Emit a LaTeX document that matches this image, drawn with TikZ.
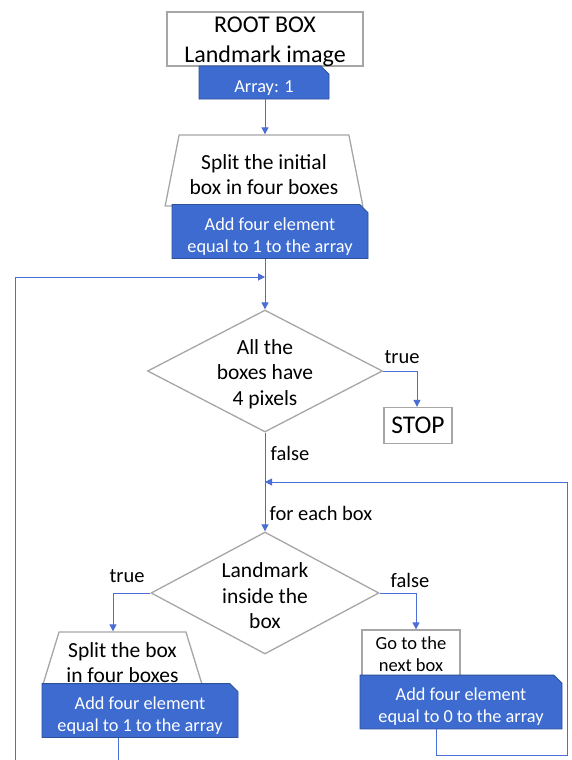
\documentclass[tikz,border=0pt]{standalone}
\usepackage{fontspec}
\setmainfont{Carlito}
\usetikzlibrary{shapes.geometric,shapes.misc,arrows.meta}
\definecolor{conn}{HTML}{4A6ED6}
\definecolor{bluefill}{HTML}{3D6BD0}
\definecolor{blueedge}{HTML}{2E5099}
\definecolor{grayedge}{HTML}{A6A6A6}
\newcommand\bpad{\rule{0pt}{22.5pt}}
\newcommand\tpad{\rule{0pt}{24pt}}
\tikzset{
  whitebox/.style={draw=grayedge,line width=1.3pt,fill=white,inner sep=0pt,align=center},
  bluebox/.style={chamfered rectangle,chamfered rectangle corners=north east,chamfered rectangle xsep=5pt,
    draw=blueedge,line width=0.8pt,fill=bluefill,text=white,inner sep=0pt,align=center,
    font=\fontsize{18.3}{22}\selectfont},
  trapbox/.style={whitebox,trapezium,trapezium stretches=true,font=\fontsize{21.5}{25}\selectfont},
  decision/.style={diamond,draw=grayedge,line width=1.3pt,inner sep=0pt},
  dtext/.style={label={[align=center,font=\fontsize{21.5}{25.5}\selectfont,yshift=-3pt]center:#1}},
  conn/.style={draw=conn,line width=1pt},
  arr/.style={conn,-{Triangle[width=7pt,length=7pt]}},
  lbl/.style={inner sep=0pt,font=\fontsize{20.5}{24}\selectfont}
}
\begin{document}
\begin{tikzpicture}[x=1pt,y=-1pt]
\useasboundingbox[fill=white] (0,0) rectangle (571,760);
% nodes
\node[whitebox,rectangle,minimum width=196,minimum height=54,label={[align=center,font=\fontsize{24}{30}\selectfont,yshift=-3pt]center:ROOT BOX\\Landmark image}] (root) at (265,39) {};
\node[bluebox,minimum width=130,minimum height=33] (arr1) at (264,82.5) {\bpad Array: 1};
\node[trapbox,trapezium left angle=76,trapezium right angle=76,minimum width=198,minimum height=71] (trap1) at (264,170.5) {\tpad Split the initial\\box in four boxes};
\node[bluebox,minimum width=196,minimum height=51] (blue1) at (270,231.5) {\bpad Add four element\\equal to 1 to the array};
\node[decision,minimum width=235,minimum height=122,dtext={All the\\boxes have\\4 pixels}] (d1) at (265,371) {};
\node[whitebox,rectangle,minimum width=68,minimum height=36,font=\fontsize{25.5}{28}\selectfont] (stop) at (418,425.5) {STOP};
\node[decision,minimum width=228,minimum height=122,dtext={Landmark\\inside the\\box}] (d2) at (265,593) {};
\node[trapbox,trapezium left angle=74,trapezium right angle=74,minimum width=159,minimum height=52] (trap2) at (122.5,658) {\tpad Split the box\\in four boxes};
\node[bluebox,minimum width=196,minimum height=53] (blue2) at (140,710.5) {\bpad Add four element\\equal to 1 to the array};
\node[whitebox,rectangle,minimum width=98,minimum height=48,font=\fontsize{18.5}{22}\selectfont] (next) at (411,654) {Go to the\\next box};
\node[bluebox,minimum width=202,minimum height=48] (blue3) at (461,702) {\bpad Add four element\\equal to 0 to the array};
% labels
\node[lbl] (t1) at (402,357) {true};
\node[lbl] (f1) at (290,453) {false};
\node[lbl] (fe) at (321,513) {for each box};
\node[lbl] (t2) at (127,576) {true};
\node[lbl] (f2) at (410,580) {false};
% coordinates
\coordinate (ltop) at (15,277);
\coordinate (lbot) at (15,760);
\coordinate (b2bot) at (118,760);
\coordinate (fbx) at (436,755);
\coordinate (fbr) at (567,482);
% connectors
\draw[arr] (arr1.south -| d1.north) -- (trap1.north -| d1.north);
\draw[arr] (blue1.south -| d1.north) -- (d1.north);
\draw[arr] (lbot) -- (ltop) -- (ltop -| d1.north);
\draw[arr] (d1.east) -| ([xshift=-1]stop.north);
\draw[arr] (d1.south) -- (d2.north);
\draw[arr] (blue3.south -| fbx) -- (fbx) -- (fbx -| fbr) -- (fbr) -- (fbr -| d2.north);
\draw[arr] (d2.west) -| ([xshift=-9.5]trap2.north);
\draw[arr] (d2.east) -| ([xshift=5]next.north);
\draw[conn] (blue2.south -| b2bot) -- (b2bot);
\end{tikzpicture}
\end{document}
